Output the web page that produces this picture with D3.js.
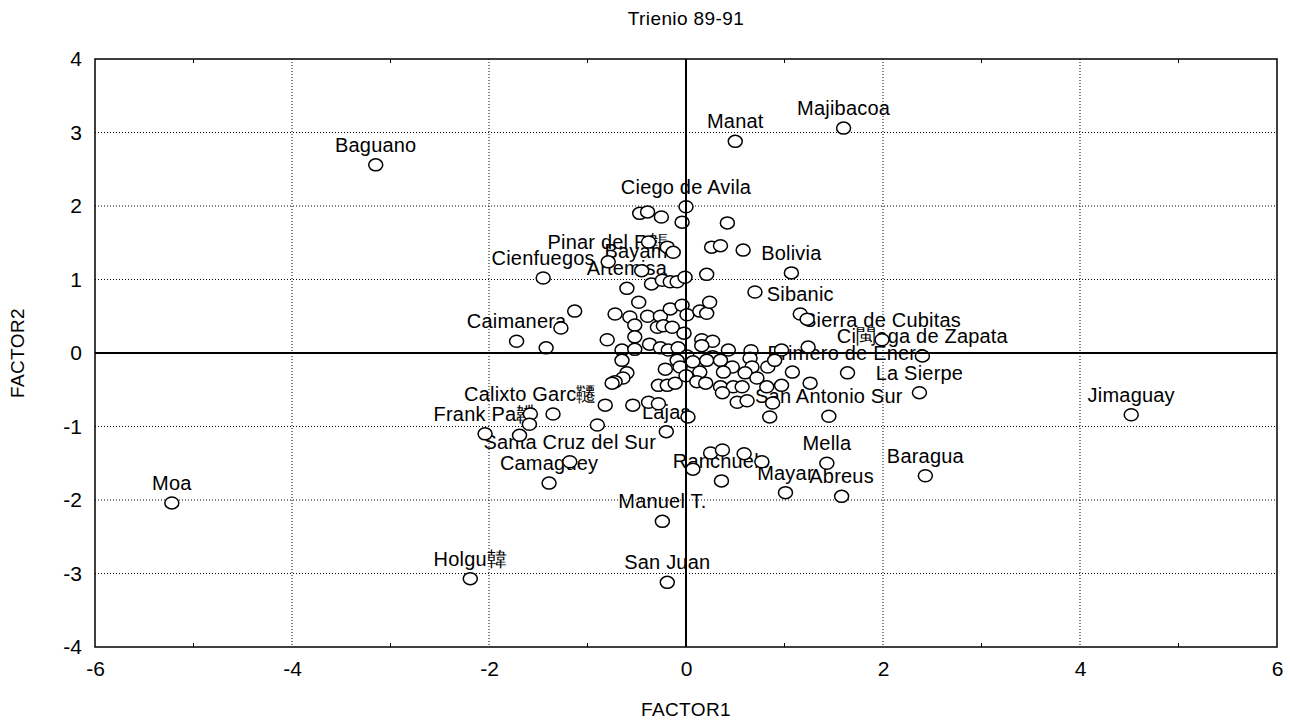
<!DOCTYPE html>
<html><head><meta charset="utf-8">
<script src="https://cdn.jsdelivr.net/npm/d3@7"></script>
<style>
html,body{margin:0;padding:0;background:#fff;}
svg{display:block;font-family:"Liberation Sans",Arial,sans-serif;}
</style></head>
<body>
<script>
const title = "Trienio 89-91";
const xTitle = "FACTOR1";
const yTitle = "FACTOR2";
const xTicks = [-6,-4,-2,0,2,4,6];
const yTicks = [-4,-3,-2,-1,0,1,2,3,4];
const names = [
"Baguano","Moa","Holgu韓","San Juan","Manuel T.","Manat","Majibacoa","Jimaguay","Baragua","Abreus",
"Mayar","Mella","San Antonio Sur","La Sierpe","Primero de Enero","Ci閩aga de Zapata","Sierra de Cubitas","Sibanic","Bolivia","Ciego de Avila",
"Pinar del R韔","Bayamo","Artemisa","Cienfuegos","Caimanera","Calixto Garc韆","Frank Pa韘","Santa Cruz del Sur","Camagüey","Lajas","Ranchuelo"
];
const f1 = [
-3.15,-5.22,-2.19,-0.19,-0.24,0.50,1.60,4.52,2.43,1.58,
1.01,1.43,1.45,2.37,1.64,2.40,1.99,1.16,1.07,0.00,
-0.79,-0.45,-0.60,-1.45,-1.72,-1.58,-2.04,-1.18,-1.39,-0.20,0.36,
-0.47,-0.39,-0.25,-0.04,0.42,0.26,0.35,0.58,-0.38,-0.19,
-0.13,0.21,0.70,1.23,-0.35,-0.24,-0.16,-0.09,-0.01,-0.48,
-1.13,-1.27,-0.72,-0.57,-0.39,-0.26,-0.16,-0.04,0.01,0.14,
0.21,0.24,-0.52,-0.29,-0.23,-0.14,-0.02,0.16,0.27,0.16,
-0.80,-0.52,-1.42,-0.65,-0.52,-0.37,-0.26,-0.18,-0.08,0.01,
0.43,0.66,0.97,1.24,0.27,0.07,0.21,0.35,0.65,-0.65,
-0.09,-0.06,-0.21,0.47,0.67,0.83,0.90,-0.60,-0.64,-0.72,
-0.75,-0.28,-0.19,-0.11,0.00,0.14,0.38,0.60,0.72,1.08,
0.11,0.20,0.35,0.48,0.57,0.82,0.97,1.26,0.37,0.52,
0.62,0.88,-0.82,-0.54,-0.38,-0.28,0.02,0.85,-1.59,-1.35,
-0.90,-1.69,0.25,0.37,0.59,0.77,0.07
];
const f2 = [
2.56,-2.04,-3.07,-3.12,-2.29,2.88,3.06,-0.84,-1.67,-1.95,
-1.90,-1.50,-0.86,-0.54,-0.27,-0.04,0.18,0.53,1.09,1.99,
1.24,1.12,0.88,1.02,0.16,-0.83,-1.10,-1.48,-1.77,-1.07,-1.74,
1.90,1.92,1.85,1.78,1.77,1.44,1.46,1.40,1.51,1.44,
1.37,1.07,0.83,0.46,0.94,0.99,0.97,0.97,1.03,0.69,
0.57,0.34,0.53,0.49,0.50,0.50,0.60,0.65,0.52,0.57,
0.54,0.69,0.38,0.35,0.37,0.35,0.27,0.18,0.16,0.10,
0.18,0.22,0.07,0.04,0.05,0.12,0.07,0.04,0.07,-0.04,
0.04,0.03,0.04,0.08,-0.05,-0.12,-0.10,-0.10,-0.07,-0.10,
-0.10,-0.19,-0.22,-0.19,-0.19,-0.19,-0.10,-0.27,-0.34,-0.39,
-0.41,-0.44,-0.44,-0.41,-0.31,-0.26,-0.26,-0.27,-0.34,-0.26,
-0.39,-0.41,-0.46,-0.46,-0.46,-0.46,-0.44,-0.41,-0.54,-0.67,
-0.65,-0.68,-0.71,-0.71,-0.67,-0.69,-0.87,-0.87,-0.97,-0.83,
-0.98,-1.12,-1.36,-1.32,-1.37,-1.48,-1.58
];

const W = 1290, H = 728;
const L = 95, R = 1277, T = 59, B = 647;
const FONT = "Liberation Sans, Arial, sans-serif";
const svg = d3.select("body").append("svg").attr("width", W).attr("height", H);
const x = d3.scaleLinear().domain([-6, 6]).range([L, R]);
const y = d3.scaleLinear().domain([-4, 4]).range([B, T]);

// grid
const g = svg.append("g");
g.selectAll(".gx").data(xTicks.filter(d => d !== 0 && d !== -6 && d !== 6)).join("line")
  .attr("x1", d => x(d)).attr("x2", d => x(d)).attr("y1", T).attr("y2", B)
  .attr("stroke", "#000").attr("stroke-width", 1).attr("stroke-dasharray", "1,2");
g.selectAll(".gy").data(yTicks.filter(d => d !== 0 && d !== -4 && d !== 4)).join("line")
  .attr("x1", L).attr("x2", R).attr("y1", d => y(d)).attr("y2", d => y(d))
  .attr("stroke", "#000").attr("stroke-width", 1).attr("stroke-dasharray", "1,2");

// axes with tick labels
const fmt = d => String(d);
const xAxis = svg.append("g").attr("transform", `translate(0,${B})`)
  .call(d3.axisBottom(x).tickValues(xTicks).tickSize(0).tickPadding(14).tickFormat(fmt));
xAxis.select(".domain").remove();
xAxis.selectAll("text").attr("font-size", 21).attr("fill", "#000").attr("font-family", FONT);
const yAxis = svg.append("g").attr("transform", `translate(${L},0)`)
  .call(d3.axisLeft(y).tickValues(yTicks).tickSize(0).tickPadding(13).tickFormat(fmt));
yAxis.select(".domain").remove();
yAxis.selectAll("text").attr("font-size", 21).attr("fill", "#000").attr("font-family", FONT);

// minor ticks
const minorX = d3.range(-5, 6, 2);
svg.append("g").selectAll("line").data(minorX).join("line")
  .attr("x1", d => x(d)).attr("x2", d => x(d)).attr("y1", B).attr("y2", B - 4)
  .attr("stroke", "#000");
svg.append("g").selectAll("line").data(minorX).join("line")
  .attr("x1", d => x(d)).attr("x2", d => x(d)).attr("y1", T).attr("y2", T + 4)
  .attr("stroke", "#000");

const pts = f1.map((v, i) => ({x: v, y: f2[i], name: names[i] || ""}));

// labels
svg.append("g").selectAll("text").data(pts.filter(d => d.name)).join("text")
  .attr("x", d => x(d.x)).attr("y", d => y(d.y) - 13)
  .attr("text-anchor", "middle").attr("font-size", 20).attr("letter-spacing", 0.2).attr("fill", "#000")
  .text(d => d.name);

// points
svg.append("g").selectAll("ellipse").data(pts).join("ellipse")
  .attr("cx", d => x(d.x)).attr("cy", d => y(d.y)).attr("rx", 7).attr("ry", 6)
  .attr("fill", "#fff").attr("stroke", "#000").attr("stroke-width", 1.5);

// zero lines
svg.append("line").attr("x1", x(0)).attr("x2", x(0)).attr("y1", T).attr("y2", B).attr("stroke", "#000").attr("stroke-width", 2);
svg.append("line").attr("x1", L).attr("x2", R).attr("y1", y(0)).attr("y2", y(0)).attr("stroke", "#000").attr("stroke-width", 2);

// frame
svg.append("rect").attr("x", L).attr("y", T).attr("width", R - L).attr("height", B - T)
  .attr("fill", "none").attr("stroke", "#000").attr("stroke-width", 1.5);

// titles
svg.append("text").attr("x", x(0)).attr("y", 25).attr("text-anchor", "middle").attr("font-size", 19).attr("letter-spacing", 0.4).text(title);
svg.append("text").attr("x", x(0)).attr("y", 716).attr("text-anchor", "middle").attr("font-size", 19).attr("letter-spacing", 0.4).text(xTitle);
svg.append("text").attr("transform", `translate(24,${y(0)}) rotate(-90)`).attr("text-anchor", "middle").attr("font-size", 19).attr("letter-spacing", 0.4).text(yTitle);
</script>
</body></html>
